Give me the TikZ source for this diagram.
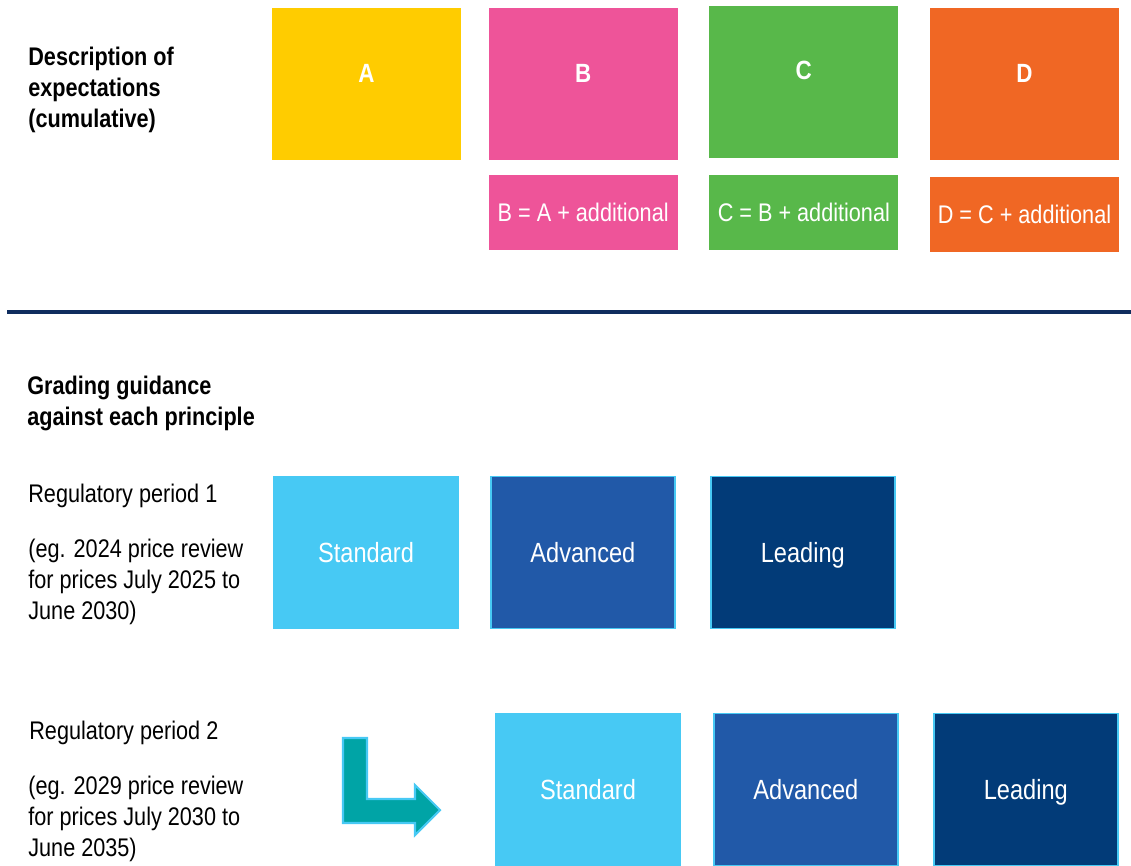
\documentclass[tikz,border=0pt]{standalone}
\usepackage{fontspec}
\setmainfont[FakeStretch=0.85]{Liberation Sans}
\usetikzlibrary{positioning}
\definecolor{gradeA}{RGB}{255,204,0}
\definecolor{gradeB}{RGB}{238,84,153}
\definecolor{gradeC}{RGB}{88,184,74}
\definecolor{gradeD}{RGB}{240,103,36}
\definecolor{standard}{RGB}{71,201,244}
\definecolor{advanced}{RGB}{33,89,168}
\definecolor{leading}{RGB}{2,59,120}
\definecolor{divider}{RGB}{15,45,94}
\definecolor{turn}{RGB}{0,164,166}

\begin{document}
\begin{tikzpicture}[x=0.02cm, y=-0.02cm,
    grade/.style={minimum width=3.78cm, minimum height=3.04cm, inner sep=0pt},
    letter/.style={text=white, font=\bfseries\fontsize{15}{18}\selectfont},
    extra/.style={minimum width=3.78cm, minimum height=1.5cm, inner sep=0pt, text=white, font=\fontsize{14.5}{17.6}\selectfont},
    level/.style={minimum width=3.68cm, minimum height=3.04cm, inner sep=0pt, text=white, draw=standard, line width=1.1pt,
      text height=14.9pt, text depth=3pt, font=\fontsize{15.8}{19}\selectfont},
    heading/.style={anchor=base west, align=left, inner sep=0pt, font=\bfseries\fontsize{14.5}{17.6}\selectfont},
    note/.style={anchor=base west, align=left, inner sep=0pt, font=\fontsize{14.5}{17.6}\selectfont}]
    \useasboundingbox (0,0) rectangle (1131,865);

    % expectations (anchor base = last line)
    \node[heading] (expect) at (28,127) {Description of\\expectations\\(cumulative)};
    \node[grade, fill=gradeA] (a) at (366.5,84) {};
    \node[grade, fill=gradeB, right=0.54cm of a] (b) {};
    \node[grade, fill=gradeC, right=0.62cm of b, yshift=0.04cm] (c) {};
    \node[grade, fill=gradeD, right=0.62cm of c, yshift=-0.04cm] (d) {};
    \node[letter, yshift=2.2mm] (la) at (a.center) {A};
    \node[letter, yshift=2.2mm] (lb) at (b.center) {B};
    \node[letter, yshift=2.4mm] (lc) at (c.center) {C};
    \node[letter, yshift=2.2mm] (ld) at (d.center) {D};
    \node[extra, fill=gradeB, below=0.28cm of b] (bplus) {B = A + additional};
    \node[extra, fill=gradeC, below=0.32cm of c] (cplus) {C = B + additional};
    \node[extra, fill=gradeD, below=0.32cm of d] (dplus) {D = C + additional};

    \draw[divider, line width=0.08cm] (7,312) -- (1131,312);

    % grading per period
    \node[heading] (grading) at (27,425) {Grading guidance\\against each principle};
    \node[note] (period1) at (28,502) {Regulatory period 1};
    \node[note] (example1) at (28,619) {(eg. 2024 price review\\for prices July 2025 to\\June 2030)};
    \node[level, fill=standard] (std1) at (366,552.5) {Standard};
    \node[level, fill=advanced, right=0.62cm of std1] (adv1) {Advanced};
    \node[level, fill=leading, right=0.68cm of adv1] (lead1) {Leading};

    \node[note] (period2) at (29,739) {Regulatory period 2};
    \node[note] (example2) at (28,856) {(eg. 2029 price review\\for prices July 2030 to\\June 2035)};
    \node[level, fill=standard] (std2) at (588,789.5) {Standard};
    \node[level, fill=advanced, right=0.64cm of std2] (adv2) {Advanced};
    \node[level, fill=leading, right=0.68cm of adv2] (lead2) {Leading};

    % bent arrow into the next period
    \draw[fill=turn, draw=standard, line width=1.2pt]
      (343,738) -- (367,738) -- (367,799) -- (415,799) -- (415,785)
      -- (440,810) -- (415,835) -- (415,823) -- (343,823) -- cycle;
\end{tikzpicture}
\end{document}
